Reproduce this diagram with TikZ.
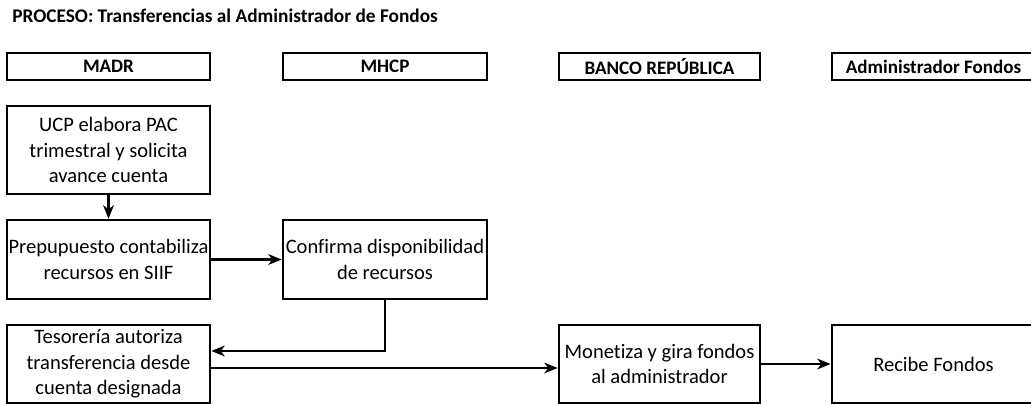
\documentclass[tikz,border=0pt]{standalone}
\usepackage{fontspec}
\setmainfont{Carlito}[Ligatures=CommonOff]
\usetikzlibrary{arrows.meta}
\begin{document}
\begin{tikzpicture}[x=0.75pt,y=-0.75pt,
  box/.style={draw=black,line width=2pt,fill=white,inner sep=0pt,align=center,
    font=\fontsize{15.4}{19.2}\selectfont},
  hdr/.style={draw=black,line width=2pt,inner sep=0pt,minimum height=20.25pt,
    font=\bfseries\fontsize{14.3}{16}\selectfont},
  conn/.style={line width=1.8pt,-{Stealth[length=10pt,width=8pt,inset=3pt]}}]
\useasboundingbox (0,0) rectangle (1031,404);
\clip (0,0) rectangle (1031,404);
\node[anchor=west,font=\bfseries\fontsize{14.5}{16}\selectfont,inner sep=0pt] (title) at (12,16) {PROCESO: Transferencias al Administrador de Fondos};
\node[hdr,minimum width=152.25pt] (h1) at (108.5,66.5) {MADR};
\node[hdr,minimum width=153pt] (h2) at (385,66.5) {MHCP};
\node[hdr,minimum width=150.75pt] (h3) at (659.5,66.5) {BANCO REPÚBLICA};
\node[hdr,minimum width=152.25pt] (h4) at (933.5,66.5) {Administrador Fondos};
\node[box,minimum width=152.25pt,minimum height=66pt] (ucp) at (108.5,150) {UCP elabora PAC\\trimestral y solicita\\avance cuenta};
\node[box,minimum width=152.25pt,minimum height=59.25pt] (pre) at (108.5,259.5) {Prepupuesto contabiliza\\recursos en SIIF};
\node[box,minimum width=153pt,minimum height=59.25pt] (con) at (385,259.5) {Confirma disponibilidad\\de recursos};
\node[box,minimum width=152.25pt,minimum height=58.5pt] (tes) at (108.5,364) {Tesorería autoriza\\transferencia desde\\cuenta designada};
\node[box,minimum width=150.75pt,minimum height=58.5pt] (mon) at (659.5,364) {Monetiza y gira fondos\\al administrador};
\node[box,minimum width=152.25pt,minimum height=58.5pt] (rec) at (933.5,364) {Recibe Fondos};
\draw[conn] (ucp.south) -- (pre.north);
\draw[conn] (pre.east) -- (con.west);
\coordinate (bend) at (con.south |- 0,351);
\draw[conn] (con.south) -- (bend) -- (bend -| tes.east);
\draw[conn] (tes.east |- 0,368) -- (mon.west |- 0,368);
\draw[conn] (mon.east) -- (rec.west);
\end{tikzpicture}
\end{document}
